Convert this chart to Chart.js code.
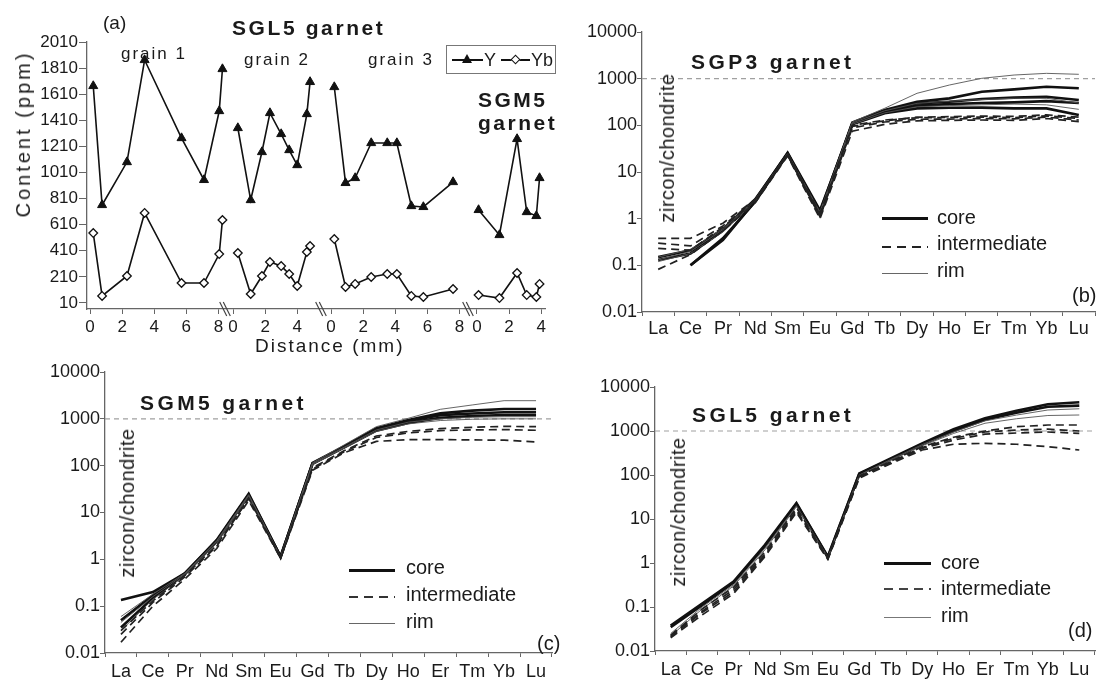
<!DOCTYPE html>
<html><head><meta charset="utf-8">
<script src="https://cdn.jsdelivr.net/npm/chart.js@4.4.0/dist/chart.umd.min.js"></script>
<style>
body{margin:0;background:#fff;width:1100px;height:680px;position:relative;overflow:hidden;font-family:"Liberation Sans",Arial,sans-serif;color:#1a1a1a}
canvas{position:absolute}
.t{position:absolute;white-space:nowrap;line-height:1}
.b{font-weight:bold}
.rot{transform:translate(-50%,-50%) rotate(-90deg)}
.ln{position:absolute}
</style></head><body>
<canvas id="ca" width="560" height="340" style="left:0;top:0"></canvas>
<canvas id="cb" width="540" height="340" style="left:560px;top:0"></canvas>
<canvas id="cc" width="560" height="340" style="left:0;top:340px"></canvas>
<canvas id="cd" width="540" height="340" style="left:560px;top:340px"></canvas>

<!-- panel (a) texts -->
<div class="t" style="left:103px;top:13px;font-size:19px">(a)</div>
<div class="t b" style="left:232px;top:17px;font-size:21px;letter-spacing:2.6px">SGL5 garnet</div>
<div class="t" style="left:121px;top:45px;font-size:17px;letter-spacing:2px">grain 1</div>
<div class="t" style="left:244px;top:51px;font-size:17px;letter-spacing:2px">grain 2</div>
<div class="t" style="left:368px;top:51px;font-size:17px;letter-spacing:2px">grain 3</div>
<div class="t b" style="left:478px;top:89px;font-size:21px;letter-spacing:2.5px">SGM5</div>
<div class="t b" style="left:478px;top:112px;font-size:21px;letter-spacing:2.5px">garnet</div>
<div class="t rot" style="left:23px;top:134px;font-size:20px;letter-spacing:3px">Content (ppm)</div>
<div class="t" style="left:255px;top:336px;font-size:19px;letter-spacing:2px">Distance (mm)</div>
<div style="position:absolute;left:446px;top:45px;width:108px;height:27px;border:1px solid #777;background:#fff"></div>
<div class="ln" style="left:452px;top:59px;width:31px;height:1.6px;background:#111"></div>
<div class="ln" style="left:462px;top:54px;width:0;height:0;border-left:5px solid transparent;border-right:5px solid transparent;border-bottom:9px solid #111"></div>
<div class="t" style="left:484px;top:51px;font-size:18px">Y</div>
<div class="ln" style="left:501px;top:59px;width:29px;height:1.6px;background:#111"></div>
<div class="ln" style="left:512px;top:56px;width:5px;height:5px;border:1.3px solid #111;background:#fff;transform:rotate(45deg)"></div>
<div class="t" style="left:531px;top:51px;font-size:18px">Yb</div>

<!-- panel (b) texts -->
<div class="t b" style="left:691px;top:51px;font-size:21px;letter-spacing:3.4px">SGP3 garnet</div>
<div class="t rot" style="left:667px;top:148px;font-size:20px;letter-spacing:0.5px">zircon/chondrite</div>
<div class="ln" style="left:882px;top:217px;width:46px;height:3px;background:#111"></div>
<div class="ln" style="left:882px;top:246px;width:46px;height:1.6px;background:repeating-linear-gradient(90deg,#222 0 9px,transparent 9px 15px)"></div>
<div class="ln" style="left:882px;top:273px;width:46px;height:1px;background:#666"></div>
<div class="t" style="left:937px;top:207px;font-size:20px">core</div>
<div class="t" style="left:937px;top:233px;font-size:20px">intermediate</div>
<div class="t" style="left:937px;top:260px;font-size:20px">rim</div>
<div class="t" style="left:1072px;top:285px;font-size:20px">(b)</div>

<!-- panel (c) texts -->
<div class="t b" style="left:140px;top:392px;font-size:21px;letter-spacing:3.4px">SGM5 garnet</div>
<div class="t rot" style="left:127px;top:503px;font-size:20px;letter-spacing:0.5px">zircon/chondrite</div>
<div class="ln" style="left:349px;top:569px;width:46px;height:3px;background:#111"></div>
<div class="ln" style="left:349px;top:596px;width:46px;height:1.6px;background:repeating-linear-gradient(90deg,#333 0 9px,transparent 9px 15px)"></div>
<div class="ln" style="left:349px;top:623px;width:46px;height:1px;background:#666"></div>
<div class="t" style="left:406px;top:557px;font-size:20px">core</div>
<div class="t" style="left:406px;top:584px;font-size:20px">intermediate</div>
<div class="t" style="left:406px;top:611px;font-size:20px">rim</div>
<div class="t" style="left:537px;top:633px;font-size:20px">(c)</div>

<!-- panel (d) texts -->
<div class="t b" style="left:692px;top:404px;font-size:21px;letter-spacing:3.4px">SGL5 garnet</div>
<div class="t rot" style="left:678px;top:512px;font-size:20px;letter-spacing:0.5px">zircon/chondrite</div>
<div class="ln" style="left:884px;top:562px;width:47px;height:3px;background:#111"></div>
<div class="ln" style="left:884px;top:588px;width:47px;height:1.6px;background:repeating-linear-gradient(90deg,#444 0 9px,transparent 9px 15px)"></div>
<div class="ln" style="left:884px;top:617px;width:47px;height:1px;background:#777"></div>
<div class="t" style="left:941px;top:552px;font-size:20px">core</div>
<div class="t" style="left:941px;top:578px;font-size:20px">intermediate</div>
<div class="t" style="left:941px;top:605px;font-size:20px">rim</div>
<div class="t" style="left:1068px;top:620px;font-size:20px">(d)</div>

<script>
// ---------- panel (a): Y and Yb profiles ----------
const segmentOffsets = [0, 8.91, 15.02, 24.11];   // start of each traverse on the shared distance axis (mm)
const grain1Dist = [0.2, 0.75, 2.3, 3.4, 5.7, 7.1, 8.05, 8.25];
const grain1Y    = [1673, 761, 1090, 1872, 1274, 953, 1481, 1803];
const grain1Yb   = [546, 64, 217, 700, 163, 163, 385, 646];
const grain2Dist = [0.3, 1.1, 1.8, 2.3, 3.0, 3.5, 4.0, 4.6, 4.8];
const grain2Y    = [1351, 799, 1167, 1466, 1305, 1182, 1067, 1458, 1704];
const grain2Yb   = [393, 79, 217, 324, 293, 232, 140, 401, 447];
const grain3Dist = [0.2, 0.9, 1.5, 2.5, 3.5, 4.1, 5.0, 5.75, 7.6];
const grain3Y    = [1665, 930, 968, 1236, 1236, 1236, 753, 746, 937];
const grain3Yb   = [500, 133, 156, 209, 232, 232, 64, 56, 117];
const sgm5Dist   = [0.1, 1.4, 2.5, 3.1, 3.7, 3.9];
const sgm5Y      = [723, 531, 1267, 707, 677, 968];
const sgm5Yb     = [71, 48, 240, 71, 56, 156];
const distTickLabels = [[0,2,4,6,8],[0,2,4],[0,2,4,6,8],[0,2,4]];
const breakPositions = [8.41, 14.39, 23.55];
const contentTicks = [10,210,410,610,810,1010,1210,1410,1610,1810,2010];

// ---------- REE patterns ----------
const reeElements = ['La','Ce','Pr','Nd','Sm','Eu','Gd','Tb','Dy','Ho','Er','Tm','Yb','Lu'];
const reeTickValues = [0.01,0.1,1,10,100,1000,10000];
const reeTickLabels = ['0.01','0.1','1','10','100','1000','10000'];
const referenceLevel = 1000;

// (b) SGP3
const sgp3Core1 = [0.15,0.21,0.6,2.6,25,1.4,115,213,321,378,526,590,673,621];
const sgp3Core2 = [null,0.1,0.35,2.4,25,1.2,108,196,296,321,366,392,411,349];
const sgp3Core3 = [0.13,0.18,0.55,2.5,26,1.5,105,181,231,239,239,231,231,166];
const sgp3Core4 = [null,0.1,0.38,2.3,24,1.3,110,190,265,285,300,310,330,300];
const sgp3Int1  = [0.38,0.38,0.8,2.6,24,1.2,95,125,150,153,158,155,168,150];
const sgp3Int2  = [0.3,0.26,0.7,2.5,25,1.3,100,130,145,148,150,146,160,140];
const sgp3Int3  = [0.23,0.21,0.66,2.4,23,1.1,88,118,135,136,140,138,150,130];
const sgp3Int4  = [0.082,0.17,0.55,2.2,22,1.0,75,105,125,128,130,128,140,120];
const sgp3Rim1  = [0.15,0.22,0.62,2.6,25,1.4,118,232,486,731,1017,1197,1300,1240];
const sgp3Rim2  = [0.13,0.2,0.58,2.5,25,1.3,112,205,296,330,355,380,380,300];
const sgp3Rim3  = [0.12,0.18,0.52,2.4,24,1.2,105,185,250,265,275,285,275,220];

// (c) SGM5
const sgm5Core1 = [0.135,0.2,0.5,2.5,24,1.15,115,260,627,944,1312,1494,1622,1622];
const sgm5Core2 = [0.05,0.17,0.5,2.6,25,1.15,112,255,600,900,1200,1300,1380,1380];
const sgm5Core3 = [0.035,0.15,0.48,2.4,23,1.1,110,245,560,820,1050,1150,1210,1210];
const sgm5Int1  = [0.03,0.13,0.45,2.0,20,1.1,90,210,430,540,620,660,690,680];
const sgm5Int2  = [0.025,0.12,0.42,1.9,20,1.1,85,200,400,500,560,580,590,570];
const sgm5Int3  = [0.017,0.1,0.38,1.7,18,1.05,80,190,330,360,360,355,350,320];
const sgm5Rim1  = [0.06,0.18,0.5,2.5,24,1.15,115,280,681,1028,1596,1977,2442,2442];
const sgm5Rim2  = [0.045,0.16,0.48,2.4,23,1.12,110,250,580,850,1000,1080,1110,1110];
const sgm5Rim3  = [0.03,0.14,0.45,2.2,22,1.1,105,240,540,780,920,980,1000,1000];

// (d) SGL5
const sgl5Core1 = [0.038,0.12,0.38,2.6,23,1.4,109,239,525,1096,1941,2895,4040,4490];
const sgl5Core2 = [0.035,0.11,0.36,2.4,22,1.35,105,230,500,1000,1800,2600,3570,3780];
const sgl5Int1  = [0.023,0.09,0.28,1.8,18,1.3,95,205,440,720,1000,1250,1368,1368];
const sgl5Int2  = [0.022,0.08,0.25,1.6,16,1.3,92,200,420,680,950,1050,1100,1000];
const sgl5Int3  = [0.021,0.075,0.22,1.5,15,1.25,90,190,400,620,850,900,950,885];
const sgl5Int4  = [0.02,0.066,0.2,1.4,14,1.2,85,180,370,500,525,500,440,370];
const sgl5Rim1  = [0.025,0.1,0.32,2.2,20,1.35,100,225,490,950,1700,2300,3000,3200];
const sgl5Rim2  = [0.022,0.09,0.3,2.0,19,1.3,98,215,460,880,1500,1900,2250,2312];

// ---------- drawing ----------
const FAMILY = '"Liberation Sans", Arial, sans-serif';
const AXIS_COLOR = '#666';
const TEXT_COLOR = '#1a1a1a';

function fixArea(W, H, area) {
  return {
    layout: { autoPadding: false, padding: { top: area.top, right: W - area.right, left: 0, bottom: 0 } },
    yFit: s => { s.width = area.left; },
    xFit: s => { s.height = H - area.bottom; }
  };
}

// Panel (a)
(function () {
  const W = 560, H = 340;
  const fa = fixArea(W, H, { left: 87, right: 545, top: 42, bottom: 309 });
  const segs = [[grain1Dist, grain1Y, grain1Yb], [grain2Dist, grain2Y, grain2Yb],
                [grain3Dist, grain3Y, grain3Yb], [sgm5Dist, sgm5Y, sgm5Yb]];
  const datasets = [];
  segs.forEach((sg, s) => {
    const [d, y, yb] = sg;
    datasets.push({
      data: d.map((v, i) => ({ x: segmentOffsets[s] + v, y: y[i] })),
      borderColor: '#111', borderWidth: 1.6, pointStyle: 'triangle', pointRadius: 5.2,
      pointBackgroundColor: '#111', pointBorderColor: '#111', pointBorderWidth: 1
    });
    datasets.push({
      data: d.map((v, i) => ({ x: segmentOffsets[s] + v, y: yb[i] })),
      borderColor: '#111', borderWidth: 1.6, pointStyle: 'rectRot', pointRadius: 4.3,
      pointBackgroundColor: '#fff', pointBorderColor: '#111', pointBorderWidth: 1.3
    });
  });
  const xTickValues = [], xTickText = [];
  distTickLabels.forEach((labels, s) => labels.forEach(l => { xTickValues.push(segmentOffsets[s] + l); xTickText.push(String(l)); }));
  const breakPlugin = {
    id: 'breaks',
    afterDraw(chart) {
      const ctx = chart.ctx, y = chart.chartArea.bottom;
      ctx.save(); ctx.strokeStyle = '#444'; ctx.lineWidth = 1.2;
      breakPositions.forEach(p => {
        const x = chart.scales.x.getPixelForValue(p);
        [-1.8, 1.8].forEach(dx => {
          ctx.beginPath(); ctx.moveTo(x + dx - 3.5, y - 7); ctx.lineTo(x + dx + 3.5, y + 7); ctx.stroke();
        });
      });
      ctx.restore();
    }
  };
  new Chart(document.getElementById('ca'), {
    type: 'line',
    data: { datasets },
    plugins: [breakPlugin],
    options: {
      responsive: false, animation: false, devicePixelRatio: 1,
      layout: fa.layout,
      plugins: { legend: { display: false }, tooltip: { enabled: false } },
      scales: {
        x: {
          type: 'linear', min: -0.19, max: 28.35,
          afterBuildTicks: s => { s.ticks = xTickValues.map(v => ({ value: v })); },
          afterFit: fa.xFit,
          grid: { drawOnChartArea: false, tickLength: 5, color: AXIS_COLOR },
          border: { color: AXIS_COLOR, width: 1.3 },
          ticks: { autoSkip: false, maxRotation: 0, minRotation: 0, padding: 3, color: TEXT_COLOR,
                   font: { size: 17, family: FAMILY }, callback: (v, i) => xTickText[i] }
        },
        y: {
          type: 'linear', min: -36, max: 2010,
          afterBuildTicks: s => { s.ticks = contentTicks.map(v => ({ value: v })); },
          afterFit: fa.yFit,
          grid: { drawOnChartArea: false, tickLength: 8, color: AXIS_COLOR },
          border: { color: AXIS_COLOR, width: 1.3 },
          ticks: { padding: 1, color: TEXT_COLOR, font: { size: 17, family: FAMILY }, callback: v => String(v) }
        }
      }
    }
  });
})();

// REE panels
const STYLE = {
  core: { borderColor: '#111', borderWidth: 2.6, borderDash: [] },
  intermediate: { borderColor: '#222', borderWidth: 1.7, borderDash: [8, 5] },
  rim: { borderColor: '#555', borderWidth: 0.9, borderDash: [] }
};
const refLinePlugin = {
  id: 'refLine',
  beforeDatasetsDraw(chart) {
    const ctx = chart.ctx, y = chart.scales.y.getPixelForValue(referenceLevel);
    ctx.save(); ctx.setLineDash([5, 4]); ctx.strokeStyle = '#a0a0a0'; ctx.lineWidth = 1.2;
    ctx.beginPath(); ctx.moveTo(chart.chartArea.left, y); ctx.lineTo(chart.chartArea.right, y); ctx.stroke();
    ctx.restore();
  }
};
function reeChart(id, W, H, area, labelPad, series) {
  const fa = fixArea(W, H, area);
  const datasets = series.map(([data, kind]) => Object.assign({
    data, pointRadius: 0, spanGaps: false, tension: 0, borderCapStyle: 'butt', borderJoinStyle: 'miter'
  }, STYLE[kind]));
  new Chart(document.getElementById(id), {
    type: 'line',
    data: { labels: reeElements, datasets },
    plugins: [refLinePlugin],
    options: {
      responsive: false, animation: false, devicePixelRatio: 1,
      layout: fa.layout,
      plugins: { legend: { display: false }, tooltip: { enabled: false } },
      scales: {
        x: {
          type: 'category', offset: true, afterFit: fa.xFit,
          grid: { offset: true, drawOnChartArea: false, tickLength: 4, color: AXIS_COLOR },
          border: { color: AXIS_COLOR, width: 1.3 },
          ticks: { autoSkip: false, maxRotation: 0, minRotation: 0, padding: labelPad, color: TEXT_COLOR,
                   font: { size: 18, family: FAMILY } }
        },
        y: {
          type: 'logarithmic', min: reeTickValues[0], max: reeTickValues[reeTickValues.length - 1],
          afterBuildTicks: s => { s.ticks = reeTickValues.map(v => ({ value: v })); },
          afterFit: fa.yFit,
          grid: { drawOnChartArea: false, tickLength: 5, color: AXIS_COLOR },
          border: { color: AXIS_COLOR, width: 1.3 },
          ticks: { padding: 0, color: TEXT_COLOR, font: { size: 18, family: FAMILY },
                   callback: (v, i) => reeTickLabels[i] }
        }
      }
    }
  });
}

reeChart('cb', 540, 340, { left: 82, right: 535, top: 32, bottom: 312 }, 2, [
  [sgp3Int1, 'intermediate'], [sgp3Int2, 'intermediate'], [sgp3Int3, 'intermediate'], [sgp3Int4, 'intermediate'],
  [sgp3Rim1, 'rim'], [sgp3Rim2, 'rim'], [sgp3Rim3, 'rim'],
  [sgp3Core1, 'core'], [sgp3Core2, 'core'], [sgp3Core3, 'core'], [sgp3Core4, 'core']
]);
reeChart('cc', 560, 340, { left: 105, right: 552, top: 32, bottom: 313 }, 4, [
  [sgm5Int1, 'intermediate'], [sgm5Int2, 'intermediate'], [sgm5Int3, 'intermediate'],
  [sgm5Rim1, 'rim'], [sgm5Rim2, 'rim'], [sgm5Rim3, 'rim'],
  [sgm5Core1, 'core'], [sgm5Core2, 'core'], [sgm5Core3, 'core']
]);
reeChart('cd', 540, 340, { left: 95, right: 535, top: 47, bottom: 311 }, 4, [
  [sgl5Int1, 'intermediate'], [sgl5Int2, 'intermediate'], [sgl5Int3, 'intermediate'], [sgl5Int4, 'intermediate'],
  [sgl5Rim1, 'rim'], [sgl5Rim2, 'rim'],
  [sgl5Core1, 'core'], [sgl5Core2, 'core']
]);
</script>
</body></html>
